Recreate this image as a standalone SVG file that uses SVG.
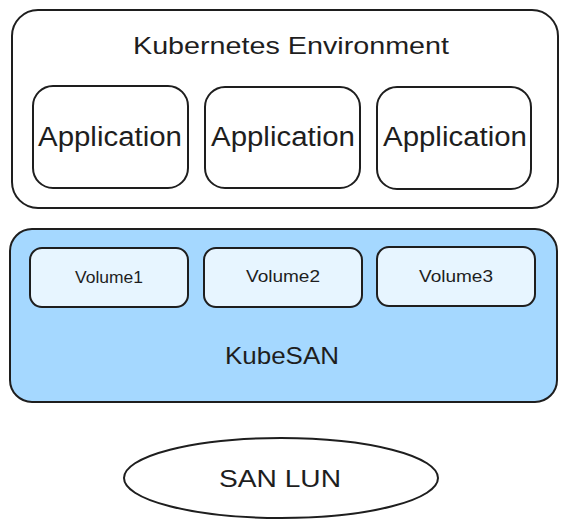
<svg xmlns="http://www.w3.org/2000/svg" width="569" height="531" viewBox="0 0 569 531">
  <style>
    .box { fill: #ffffff; stroke: #1e1e1e; stroke-width: 2; }
    .san { fill: #a5d8ff; stroke: #1e1e1e; stroke-width: 2; }
    .vol { fill: #e7f5ff; stroke: #1e1e1e; stroke-width: 2; }
    text { font-family: "Liberation Sans", Arial, sans-serif; fill: #1e1e1e; text-anchor: middle; }
    .big { font-size: 24px; }
    .app { font-size: 27px; }
    .small { font-size: 16px; }
  </style>
  <rect width="569" height="531" fill="#ffffff"/>
  <g id="kubernetes-environment">
    <rect class="box" x="12" y="10" width="546" height="198" rx="26" ry="26"/>
    <text class="big" x="291" y="54" textLength="316" lengthAdjust="spacingAndGlyphs">Kubernetes Environment</text>
  </g>
  <g id="application1">
    <rect class="box" x="33" y="86" width="155" height="102" rx="20" ry="20"/>
    <text class="app" x="110" y="146" textLength="144" lengthAdjust="spacingAndGlyphs">Application</text>
  </g>
  <g id="application2">
    <rect class="box" x="205" y="87" width="155" height="101" rx="20" ry="20"/>
    <text class="app" x="283" y="146" textLength="144" lengthAdjust="spacingAndGlyphs">Application</text>
  </g>
  <g id="application3">
    <rect class="box" x="377" y="87" width="154" height="102" rx="20" ry="20"/>
    <text class="app" x="455" y="146" textLength="144" lengthAdjust="spacingAndGlyphs">Application</text>
  </g>
  <g id="kubesan">
    <rect class="san" x="10" y="229" width="547" height="173" rx="22" ry="22"/>
    <text class="big" x="282" y="364" textLength="114" lengthAdjust="spacingAndGlyphs">KubeSAN</text>
  </g>
  <g id="volume1">
    <rect class="vol" x="30" y="248" width="158" height="59" rx="12" ry="12"/>
    <text class="small" x="109" y="283" textLength="68" lengthAdjust="spacingAndGlyphs">Volume1</text>
  </g>
  <g id="volume2">
    <rect class="vol" x="204" y="248" width="158" height="59" rx="12" ry="12"/>
    <text class="small" x="283" y="282" textLength="74" lengthAdjust="spacingAndGlyphs">Volume2</text>
  </g>
  <g id="volume3">
    <rect class="vol" x="377" y="247" width="158" height="59" rx="12" ry="12"/>
    <text class="small" x="456" y="282" textLength="74" lengthAdjust="spacingAndGlyphs">Volume3</text>
  </g>
  <g id="san-lun">
    <ellipse class="box" cx="281" cy="478" rx="157" ry="40"/>
    <text class="big" x="280" y="487" textLength="122" lengthAdjust="spacingAndGlyphs">SAN LUN</text>
  </g>
  <g id="connectors"></g>
</svg>
